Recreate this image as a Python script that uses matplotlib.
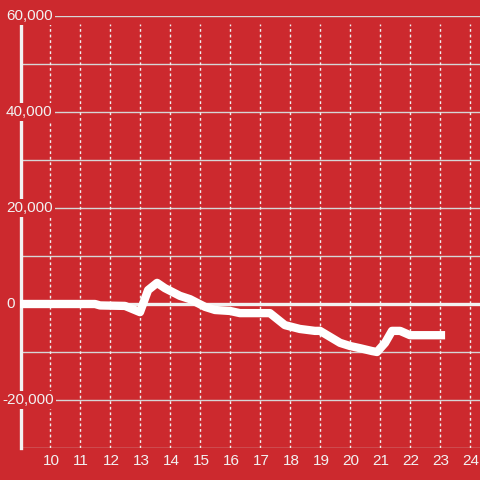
import matplotlib
matplotlib.use('Agg')
import matplotlib.pyplot as plt

# hours of the day and running value
hours = [9.0, 11.5, 11.67, 12.5, 13.0, 13.27, 13.57, 13.83, 14.33, 14.67, 15.17, 15.5, 16.0,
         16.33, 17.33, 17.83, 18.33, 18.83, 19.0, 19.67, 20.0, 20.33, 20.73, 20.9, 21.17,
         21.4, 21.67, 22.0, 23.0, 23.17]
values = [0, 0, -300, -400, -1700, 2900, 4400, 3300, 1700, 1000, -600, -1250, -1450,
          -1900, -1900, -4400, -5200, -5600, -5600, -8100, -8750, -9200, -9800, -10000, -8100,
          -5600, -5600, -6500, -6500, -6500]
x_ticks = list(range(10, 25))
y_ticks = [-20000, 0, 20000, 40000, 60000]
y_labels = ['-20,000', '0', '20,000', '40,000', '60,000']

BG = '#cc292e'
TXT = '#f2f2f2'
W = H = 480

fig = plt.figure(figsize=(4.8, 4.8), dpi=100, facecolor=BG)
ax = fig.add_axes([20 / W, 32 / H, 460 / W, 432 / H])
ax.set_facecolor(BG)
ax.set_xlim(9, 9 + 460 / 30)
ax.set_ylim(-30000, 60000)
for s in ax.spines.values():
    s.set_visible(False)
ax.set_xticks([])
ax.set_yticks([])

# horizontal grid
for v in range(-30000, 60001, 10000):
    ax.axhline(v, color='#d6d6d6', lw=1, zorder=1)
# vertical dashed grid
for h in x_ticks:
    ax.plot([h, h], [-30000, 58300], color='#f0f0f0', lw=1, ls=(0, (2, 2)), zorder=1)

# zero line and left axis
ax.axhline(0, color='#f2f2f2', lw=2.4, zorder=2)
ax.plot([9.03, 9.03], [-30000, 58300], color='#f2f2f2', lw=2.4, zorder=2, clip_on=False)

ax.plot(hours, values, color='white', lw=6, solid_joinstyle='round',
        solid_capstyle='butt', zorder=3)

# x tick labels
for h in x_ticks:
    fx = (20 + (h - 9) * 30 + 1) / W
    fig.text(fx, 1 - 461 / H, str(h), ha='center', va='center', color=TXT,
             fontsize=11, family='Liberation Sans')

# y tick labels with background boxes
for v, lab in zip(y_ticks, y_labels):
    py = 304 - v / 20000 * 96
    px = 2 if lab.startswith('-') else 6
    fig.text(px / W, 1 - py / H, lab, ha='left', va='center', color=TXT,
             fontsize=11, family='Liberation Sans', zorder=5,
             bbox=dict(facecolor=BG, edgecolor='none', pad=1.5))

fig.savefig('out.png', dpi=100, facecolor=BG)
